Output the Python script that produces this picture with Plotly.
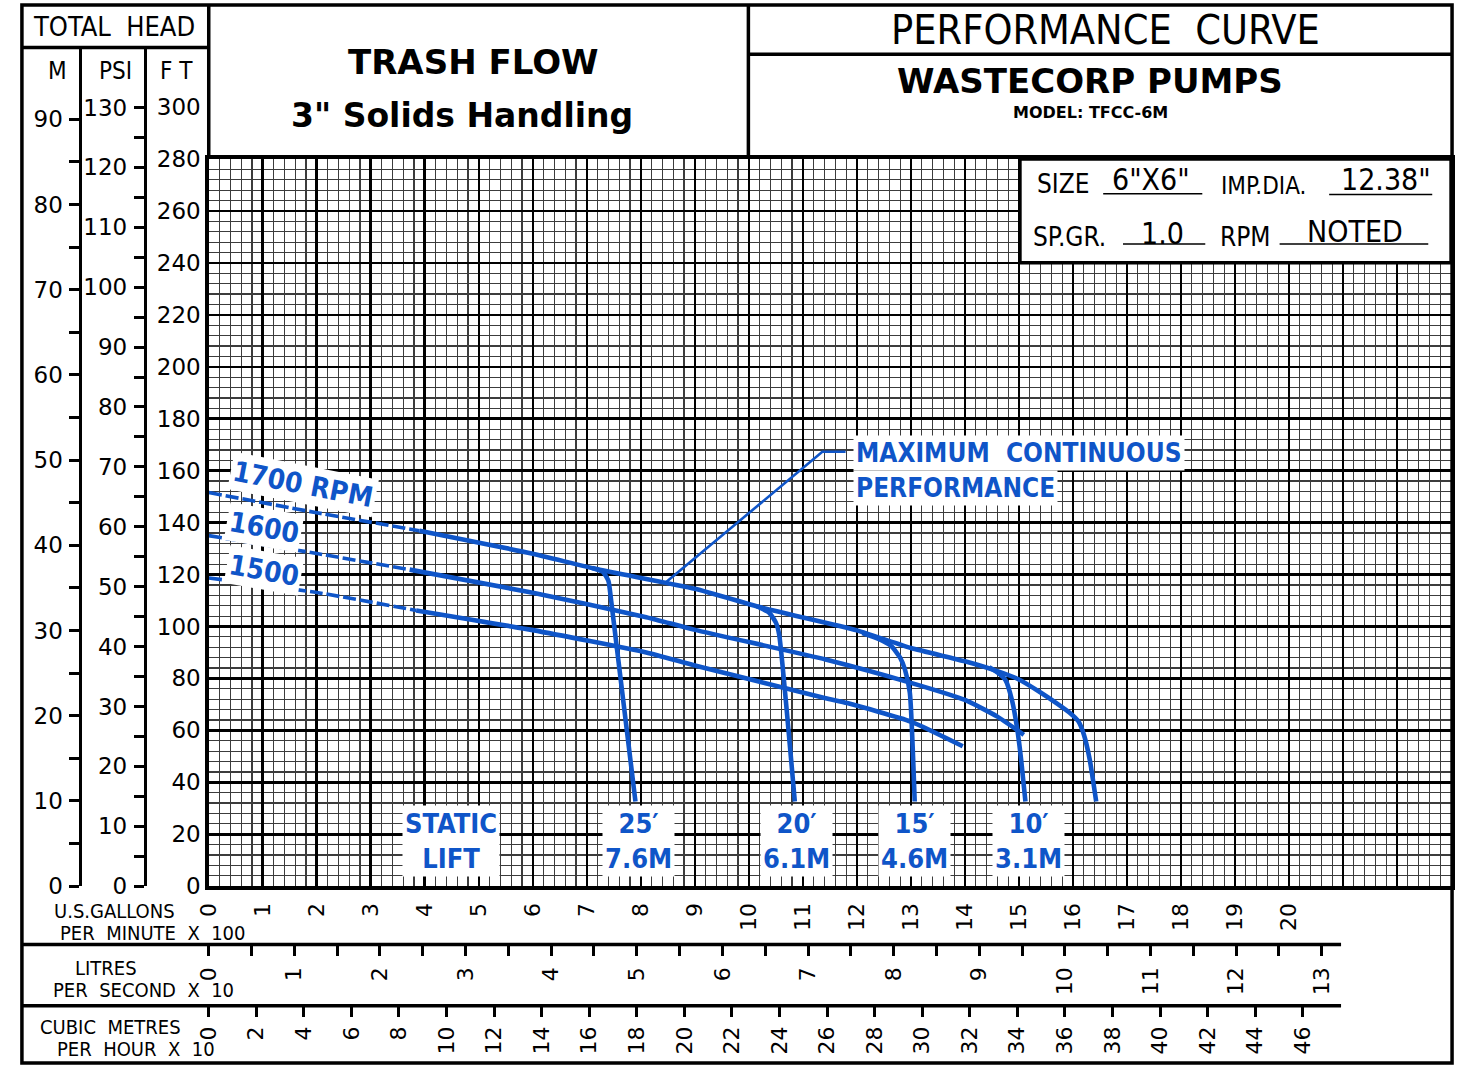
import plotly.graph_objects as go

# ---------------- DATA (flow in US GPM x 100, head in ft) ----------------
rpm_labels = ["1700 RPM", "1600", "1500"]

rpm1700_dash_q = [0.0, 2.0, 3.9]
rpm1700_dash_h = [151.6, 143.8, 136.9]
rpm1700_q = [3.9, 5.98, 7.2, 9.0, 10.28, 12.0, 13.0, 14.0, 14.6, 15.0, 15.4, 15.7, 15.95, 16.1, 16.2, 16.31, 16.43]
rpm1700_h = [136.9, 128.1, 122.0, 114.5, 107.0, 98.5, 91.7, 86.6, 82.8, 79.6, 74.6, 70.4, 66.6, 63.5, 58.5, 48.8, 32.6]

rpm1600_dash_q = [0.0, 2.0, 3.72]
rpm1600_dash_h = [135.0, 128.1, 121.9]
rpm1600_q = [3.72, 6.0, 8.1, 9.0, 11.42, 13.0, 14.0, 14.6, 15.09]
rpm1600_h = [121.9, 113.0, 103.6, 98.7, 87.3, 78.3, 71.7, 65.3, 58.3]

rpm1500_dash_q = [0.0, 2.0, 3.84]
rpm1500_dash_h = [118.7, 113.1, 106.2]
rpm1500_q = [3.84, 6.0, 8.1, 9.0, 11.42, 11.82, 13.0, 13.96]
rpm1500_h = [106.2, 98.6, 90.0, 85.0, 72.4, 70.5, 63.4, 53.9]

# static lift (system) curves
lift25_q = [7.1, 7.3, 7.4, 7.45, 7.9]
lift25_h = [122.5, 121.0, 117.5, 110.0, 32.6]
lift20_q = [10.15, 10.38, 10.5, 10.56, 10.85]
lift20_h = [107.8, 105.2, 101.5, 97.0, 32.6]
lift15_q = [12.1, 12.4, 12.64, 12.8, 12.89, 12.98, 13.07]
lift15_h = [97.5, 95.2, 92.4, 88.0, 83.4, 74.5, 32.6]
lift10_q = [14.45, 14.62, 14.75, 14.87, 14.97, 15.04, 15.12]
lift10_h = [84.3, 82.0, 79.4, 71.7, 60.3, 48.8, 32.6]

lift_labels = ["STATIC<br>LIFT", "25\u2032<br>7.6M", "20\u2032<br>6.1M", "15\u2032<br>4.6M", "10\u2032<br>3.1M"]
lift_label_q = [4.49, 7.96, 10.89, 13.07, 15.17]

mcp_q = [8.47, 11.36, 11.79]
mcp_h = [117.1, 167.3, 167.3]

gpm_ticks = list(range(0, 23))
gpm_text = [str(v) if v <= 20 else "" for v in gpm_ticks]

m_ticks = [v * 5 for v in range(0, 19)]
m_text = [str(v) if v % 10 == 0 else "" for v in m_ticks]
psi_ticks = [v * 5 for v in range(0, 27)]
psi_text = [str(v) if v % 10 == 0 else "" for v in psi_ticks]
ft_ticks = list(range(0, 301, 20))
ft_text = [str(v) for v in ft_ticks]

lps_ticks = [v * 0.5 for v in range(0, 27)]
lps_text = [str(int(v)) if v == int(v) else "" for v in lps_ticks]
m3h_ticks = list(range(0, 47, 2))
m3h_text = [str(v) for v in m3h_ticks]

# unit conversions
FT_PER_M = 3.28084
FT_PER_PSI = 2.30666
GPM100_PER_10LPS = 1.58503
GPM100_PER_10M3H = 0.44029

# ---------------- LAYOUT HELPERS ----------------
W, H = 1458, 1078
def px(x):
    return x / W
def py(y):
    return 1 - y / H

BLUE = "#0f55c8"
CAD = "Liberation Sans Narrow, DejaVu Sans Condensed, Roboto Condensed, sans-serif"
NUM = "DejaVu Sans, sans-serif"
BOLD = "DejaVu Sans, sans-serif"

X0, X1 = 197.5, 1451.0
Y0, Y1 = 897.0, 161.0
FT_RANGE = 280.0
PXFT = (Y0 - Y1) / FT_RANGE
YTOP = 48.0
ext_ft = (Y0 - YTOP) / PXFT

fig = go.Figure()

def curve(q, h, width=4.6, dash=None):
    fig.add_trace(go.Scatter(x=q, y=h, mode="lines", showlegend=False, hoverinfo="skip",
                             line=dict(color=BLUE, width=width, dash=dash, shape="spline", smoothing=0.5)))

curve(rpm1700_dash_q, rpm1700_dash_h, 3.6, "13px,4px")
curve(rpm1600_dash_q, rpm1600_dash_h, 3.6, "13px,4px")
curve(rpm1500_dash_q, rpm1500_dash_h, 3.6, "13px,4px")
curve(rpm1700_q, rpm1700_h)
curve(rpm1600_q, rpm1600_h)
curve(rpm1500_q, rpm1500_h)
curve(lift25_q, lift25_h)
curve(lift20_q, lift20_h)
curve(lift15_q, lift15_h)
curve(lift10_q, lift10_h)
fig.add_trace(go.Scatter(x=mcp_q, y=mcp_h, mode="lines", showlegend=False, hoverinfo="skip",
                         line=dict(color=BLUE, width=2.6)))

# dummy traces to register the auxiliary scales
for xa, ya in [("x4", "y2"), ("x4", "y3"), ("x4", "y4"), ("x2", "y5"), ("x3", "y5")]:
    fig.add_trace(go.Scatter(x=[0], y=[0], xaxis=xa, yaxis=ya, mode="markers",
                             marker=dict(opacity=0, size=1), showlegend=False, hoverinfo="skip"))

grid_major = dict(showgrid=True, gridcolor="#000000", gridwidth=2.6, zeroline=False,
                  showline=True, mirror=True, linecolor="#000000", linewidth=4)

fig.update_layout(
    width=W, height=H, autosize=False,
    margin=dict(l=0, r=0, t=0, b=0),
    paper_bgcolor="white", plot_bgcolor="rgba(0,0,0,0)",
    showlegend=False, hovermode=False,
    xaxis=dict(domain=[px(X0), px(X1)], range=[0, 23], tickmode="array", tickvals=gpm_ticks,
               ticktext=gpm_text, ticks="", tickangle=-90, ticklabelstandoff=4,
               tickfont=dict(family=NUM, size=22, color="black"),
               minor=dict(tickmode="linear", tick0=0, dtick=0.2, showgrid=True,
                          gridcolor="#3c3c3c", gridwidth=1.2, ticks=""),
               anchor="y", **grid_major),
    yaxis=dict(domain=[py(Y0), py(Y1)], range=[0, FT_RANGE], tickmode="linear", tick0=0, dtick=20,
               showticklabels=False, ticks="",
               minor=dict(tickmode="linear", tick0=0, dtick=4, showgrid=True,
                          gridcolor="#3c3c3c", gridwidth=1.2, ticks=""),
               anchor="x", **grid_major),
    xaxis4=dict(domain=[0, 0.002], range=[0, 1], visible=False, anchor="y2"),
    yaxis2=dict(domain=[py(Y0), py(YTOP)], range=[0, ext_ft / FT_PER_M], anchor="free", position=px(68),
                side="left", tickmode="array", tickvals=m_ticks, ticktext=m_text, ticks="outside",
                ticklen=10, tickwidth=3, tickcolor="black", showline=True, linewidth=3, linecolor="black",
                showgrid=False, zeroline=False, ticklabelstandoff=2,
                tickfont=dict(family=NUM, size=23, color="black")),
    yaxis3=dict(domain=[py(Y0), py(YTOP)], range=[0, ext_ft / FT_PER_PSI], anchor="free", position=px(133),
                side="left", tickmode="array", tickvals=psi_ticks, ticktext=psi_text, ticks="outside",
                ticklen=10, tickwidth=3, tickcolor="black", showline=True, linewidth=3, linecolor="black",
                showgrid=False, zeroline=False, ticklabelstandoff=2,
                tickfont=dict(family=NUM, size=23, color="black")),
    yaxis4=dict(domain=[py(Y0), py(YTOP)], range=[0, ext_ft], anchor="free", position=px(X0),
                side="left", tickmode="array", tickvals=ft_ticks, ticktext=ft_text, ticks="",
                showline=False, showgrid=False, zeroline=False, ticklabelstandoff=8,
                tickfont=dict(family=NUM, size=23, color="black")),
    yaxis5=dict(domain=[0, 0.002], range=[0, 1], visible=False, anchor="x2"),
    xaxis2=dict(domain=[px(X0), px(X1)], range=[0, 23 / GPM100_PER_10LPS], anchor="free", position=py(956),
                side="bottom", tickmode="array", tickvals=lps_ticks, ticktext=lps_text, ticks="outside",
                ticklen=11, tickwidth=3, tickcolor="black", showline=False, showgrid=False, zeroline=False,
                tickangle=-90, ticklabelstandoff=2, tickfont=dict(family=NUM, size=22, color="black")),
    xaxis3=dict(domain=[px(X0), px(X1)], range=[0, 23 / GPM100_PER_10M3H], anchor="free", position=py(1018),
                side="bottom", tickmode="array", tickvals=m3h_ticks, ticktext=m3h_text, ticks="outside",
                ticklen=10, tickwidth=3, tickcolor="black", showline=False, showgrid=False, zeroline=False,
                tickangle=-90, ticklabelstandoff=1, tickfont=dict(family=NUM, size=22, color="black")),
)

# ---------------- frame / boxes ----------------
shapes = []
def pline(xa, ya, xb, yb, w=3.5):
    shapes.append(dict(type="line", xref="paper", yref="paper", x0=px(xa), y0=py(ya), x1=px(xb), y1=py(yb),
                       line=dict(color="black", width=w)))

shapes.append(dict(type="rect", xref="paper", yref="paper", x0=px(9), y0=py(5), x1=px(1452), y1=py(1076),
                   line=dict(color="black", width=3.5)))
pline(9, 48, X0, 48)
pline(X0, 5, X0, Y1)
pline(742, 5, 742, Y1)
pline(742, 55, 1452, 55)
pline(9, 956, 1340, 956, 3.5)
pline(9, 1018, 1340, 1018, 3.5)
shapes.append(dict(type="rect", xref="paper", yref="paper", x0=px(1016), y0=py(266), x1=px(X1), y1=py(Y1),
                   fillcolor="white", line=dict(color="black", width=3.5), layer="above"))
pline(1100, 196, 1200, 196, 1.5)
pline(1328, 197, 1432, 197, 1.5)
pline(1120, 247, 1203, 247, 1.5)
pline(1278, 247, 1428, 247, 1.5)
fig.update_layout(shapes=shapes)

# ---------------- text ----------------
ann = []
def ptext(t, x, y, size, family=CAD, color="black", weight="normal", xanchor="center"):
    ann.append(dict(text=t, xref="paper", yref="paper", x=px(x), y=py(y), showarrow=False,
                    xanchor=xanchor, yanchor="middle",
                    font=dict(family=family, size=size, color=color, weight=weight)))

ptext("TOTAL  HEAD", 102, 27, 27)
ptext("M", 45, 72, 24)
ptext("PSI", 103, 72, 24)
ptext("F T", 165, 72, 24)
ptext("TRASH FLOW", 465, 63, 34, BOLD, weight="bold")
ptext("3\" Solids Handling", 453, 117, 33, BOLD, weight="bold")
ptext("PERFORMANCE  CURVE", 1102, 30, 41)
ptext("WASTECORP PUMPS", 1087, 82, 34, BOLD, weight="bold")
ptext("MODEL: TFCC-6M", 1087, 114, 16, BOLD, weight="bold")
ptext("SIZE", 1060, 186, 26)
ptext("6\"X6\"", 1148, 182, 30)
ptext("IMP.DIA.", 1262, 188, 24)
ptext("12.38\"", 1385, 182, 30)
ptext("SP.GR.", 1066, 240, 26)
ptext("1.0", 1160, 236, 30)
ptext("RPM", 1244, 240, 26)
ptext("NOTED", 1354, 234, 30)
ptext("U.S.GALLONS", 102, 922, 20)
ptext("PER  MINUTE  X  100", 141, 944, 20)
ptext("LITRES", 94, 980, 20)
ptext("PER  SECOND  X  10", 132, 1002, 20)
ptext("CUBIC  METRES", 98, 1040, 20)
ptext("PER  HOUR  X  10", 124, 1062, 20)

# data-space labels
def dtext(t, x, y, size, angle=0, xanchor="center"):
    ann.append(dict(text=t, x=x, y=y, xref="x", yref="y", showarrow=False, textangle=angle,
                    xanchor=xanchor, yanchor="middle", bgcolor="white", borderpad=2,
                    font=dict(family=CAD, size=size, color=BLUE, weight="bold")))

dtext(rpm_labels[0], 1.75, 154.5, 28, 11)
dtext(rpm_labels[1], 1.02, 138.0, 28, 10)
dtext(rpm_labels[2], 1.02, 121.6, 28, 10)
for t, q in zip(lift_labels, lift_label_q):
    dtext(t, q, 17.5, 27)
dtext("MAXIMUM  CONTINUOUS", 11.92, 167.0, 26, 0, "left")
dtext("PERFORMANCE", 11.92, 153.3, 26, 0, "left")

fig.update_layout(annotations=ann)

fig.write_html("out.html", post_script="document.body.style.margin='0';document.body.style.overflow='hidden';",
               config={"staticPlot": True})
